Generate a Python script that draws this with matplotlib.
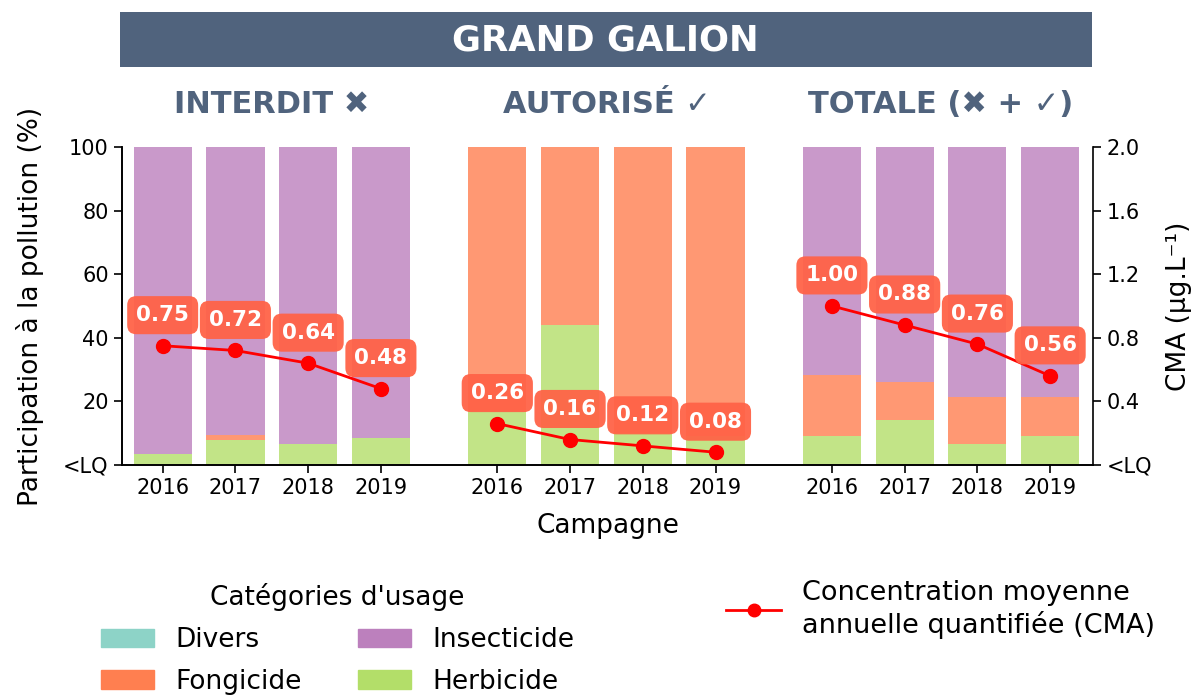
import matplotlib
matplotlib.use("Agg")
import matplotlib.pyplot as plt
from matplotlib.patches import Patch, Rectangle
from matplotlib.lines import Line2D
import matplotlib.transforms as mtransforms
import numpy as np

# ---- data ----
years = ["2016", "2017", "2018", "2019"]
groups = ["INTERDIT \u2716", "AUTORIS\u00c9 \u2713", "TOTALE (\u2716 + \u2713)"]

herbicide = [[3.5, 8.0, 6.5, 8.5],
             [17.0, 44.0, 10.0, 9.0],
             [9.2, 14.2, 6.5, 9.2]]
fongicide = [[0.0, 1.3, 0.0, 0.0],
             [83.0, 56.0, 90.0, 91.0],
             [19.1, 12.0, 14.8, 12.1]]
insecticide = [[96.5, 90.7, 93.5, 91.5],
               [0.0, 0.0, 0.0, 0.0],
               [71.7, 73.8, 78.7, 78.7]]
divers = [[0.0, 0.0, 0.0, 0.0],
          [0.0, 0.0, 0.0, 0.0],
          [0.0, 0.0, 0.0, 0.0]]

cma = [[0.75, 0.72, 0.64, 0.48],
       [0.26, 0.16, 0.12, 0.08],
       [1.00, 0.88, 0.76, 0.56]]

left_ticks = [0, 20, 40, 60, 80, 100]
left_labels = ["<LQ", "20", "40", "60", "80", "100"]
right_ticks = [0, 0.4, 0.8, 1.2, 1.6, 2.0]
right_labels = ["<LQ", "0.4", "0.8", "1.2", "1.6", "2.0"]

# ---- styles ----
c_divers = "#8dd3c7"
c_fong = "#ff7f50"
c_insect = "#bc80bd"
c_herb = "#b3de69"
c_title = "#50637d"
group_step = 4.6

fig = plt.figure(figsize=(11.92, 6.95), dpi=100)
ax = fig.add_axes([0.1023, 0.331, 0.8147, 0.4575])
ax2 = ax.twinx()

xt = []
xl = []
for g in range(3):
    x = np.arange(4) + g * group_step
    h = np.array(herbicide[g])
    f = np.array(fongicide[g])
    i = np.array(insecticide[g])
    d = np.array(divers[g])
    ax.bar(x, h, width=0.8, color=c_herb, alpha=0.8)
    ax.bar(x, f, width=0.8, bottom=h, color=c_fong, alpha=0.8)
    ax.bar(x, i, width=0.8, bottom=h + f, color=c_insect, alpha=0.8)
    ax.bar(x, d, width=0.8, bottom=h + f + i, color=c_divers, alpha=0.8)

    ax2.plot(x, cma[g], color="red", lw=2, marker="o", ms=10, zorder=3)
    for xx, yy in zip(x, cma[g]):
        ax2.annotate("%.2f" % yy, (xx, yy), xytext=(0, 22), textcoords="offset points",
                     ha="center", va="center", color="white", fontsize=15.5, fontweight="bold",
                     bbox=dict(boxstyle="round,pad=0.42", fc="tomato", ec="none", alpha=0.95),
                     zorder=4)

    xt += list(x)
    xl += years
    trans = mtransforms.blended_transform_factory(ax.transData, fig.transFigure)
    ax.text(x.mean(), 0.849, groups[g], transform=trans, ha="center", va="center",
            fontsize=22, fontweight="bold", color=c_title)

ax.set_xlim(-0.56, 12.79)
ax.set_ylim(0, 100)
ax2.set_ylim(0, 2.0)
ax.set_xticks(xt)
ax.set_xticklabels(xl, fontsize=15)
ax.set_yticks(left_ticks)
ax.set_yticklabels(left_labels, fontsize=15)
ax2.set_yticks(right_ticks)
ax2.set_yticklabels(right_labels, fontsize=15)
ax.tick_params(length=6, width=1.2)
ax2.tick_params(length=6, width=1.2)
ax.set_xlabel("Campagne", fontsize=19, labelpad=11)
ax.set_ylabel("Participation \u00e0 la pollution (%)", fontsize=19, labelpad=14)
ax2.set_ylabel("CMA (\u00b5g.L\u207b\u00b9)", fontsize=19, labelpad=10)
for a in (ax, ax2):
    a.spines["top"].set_visible(False)
    for s in ("left", "right", "bottom"):
        a.spines[s].set_linewidth(1.2)
ax.spines["right"].set_visible(False)

# banner
fig.patches.append(Rectangle((0.1007, 0.9036), 0.8154, 0.0791, transform=fig.transFigure,
                             fc=c_title, ec="none"))
fig.text(0.508, 0.942, "GRAND GALION", ha="center", va="center", color="white",
         fontsize=25.5, fontweight="bold")

# legends
handles = [Patch(color=c_divers, label="Divers"), Patch(color=c_fong, label="Fongicide"),
           Patch(color=c_insect, label="Insecticide"), Patch(color=c_herb, label="Herbicide")]
leg1 = fig.legend(handles=handles, ncol=2, loc="upper left", bbox_to_anchor=(0.065, 0.195),
                  frameon=False, fontsize=19, title="Cat\u00e9gories d'usage", title_fontsize=19,
                  columnspacing=2.15, handleheight=0.7, labelspacing=0.6)
leg2 = fig.legend(handles=[Line2D([], [], color="red", lw=2, marker="o", ms=9,
                                  label="Concentration moyenne\nannuelle quantifi\u00e9e (CMA)")],
                  loc="upper left", bbox_to_anchor=(0.589, 0.2), frameon=False, fontsize=19.5)

fig.savefig("out.png", dpi=100)
